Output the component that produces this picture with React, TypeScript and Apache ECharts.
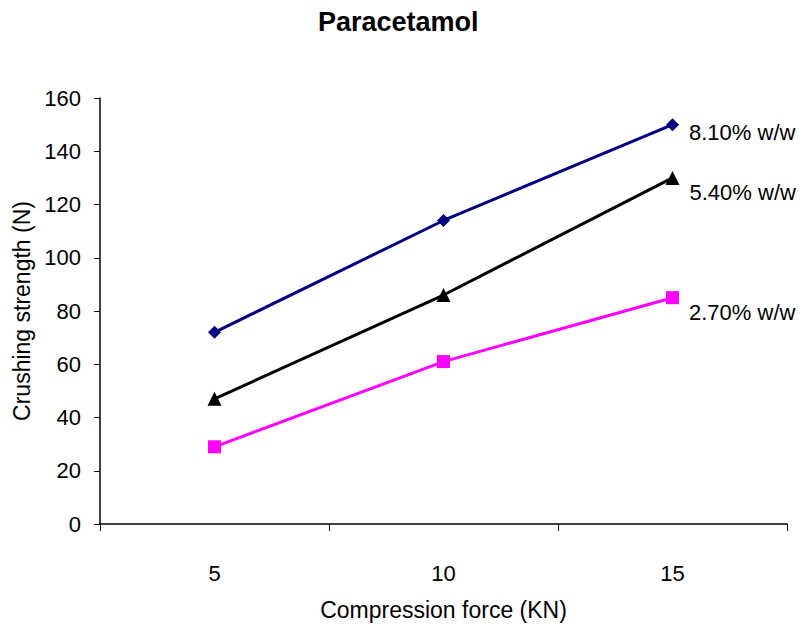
import React, { useEffect, useRef } from "react";
import * as echarts from "echarts";

const categories = ["5", "10", "15"];
const series81 = [72, 114, 150];
const series54 = [47, 86, 130];
const series27 = [29, 61, 85];
const seriesNames = ["8.10% w/w", "5.40% w/w", "2.70% w/w"];

const FONT = "'Liberation Sans', Arial, sans-serif";

function withEndLabel(values: number[], name: string, offsetY: number) {
  return values.map((v, i) =>
    i === values.length - 1
      ? {
          value: v,
          label: {
            show: true,
            position: "right",
            offset: [5, offsetY],
            formatter: name,
            color: "#000",
            fontSize: 22,
            fontFamily: FONT,
          },
        }
      : v
  );
}

export default function App() {
  const ref = useRef<HTMLDivElement>(null);
  useEffect(() => {
    if (!ref.current) return;
    const chart = echarts.init(ref.current, undefined, { renderer: "svg" });
    chart.setOption({
      animation: false,
      backgroundColor: "#fff",
      title: {
        text: "Paracetamol",
        left: 318,
        top: 8,
        padding: 0,
        textStyle: { fontFamily: FONT, fontSize: 27, fontWeight: "bold", color: "#000" },
      },
      grid: { left: 100, right: 15, top: 98, bottom: 107, outerBoundsMode: "none", containLabel: false },
      xAxis: {
        type: "category",
        data: categories,
        boundaryGap: true,
        name: "Compression force (KN)",
        nameLocation: "middle",
        nameGap: 74,
        nameTextStyle: { fontFamily: FONT, fontSize: 23, color: "#000" },
        axisLine: { lineStyle: { color: "#000", width: 1.5 } },
        axisTick: { show: true, length: 7, lineStyle: { color: "#000" } },
        axisLabel: { fontFamily: FONT, fontSize: 22, color: "#000", margin: 38 },
        splitLine: { show: false },
      },
      yAxis: {
        type: "value",
        min: 0,
        max: 160,
        interval: 20,
        name: "Crushing strength (N)",
        nameLocation: "middle",
        nameGap: 67,
        nameTextStyle: { fontFamily: FONT, fontSize: 23, color: "#000" },
        axisLine: { show: true, lineStyle: { color: "#000", width: 1.5 } },
        axisTick: { show: true, length: 6, lineStyle: { color: "#000" } },
        axisLabel: { fontFamily: FONT, fontSize: 22, color: "#000", margin: 19 },
        splitLine: { show: false },
      },
      series: [
        {
          name: seriesNames[0],
          type: "line",
          data: withEndLabel(series81, seriesNames[0], 8),
          symbol: "diamond",
          symbolSize: 13,
          lineStyle: { color: "#000080", width: 3 },
          itemStyle: { color: "#000080" },
        },
        {
          name: seriesNames[1],
          type: "line",
          data: withEndLabel(series54, seriesNames[1], 15),
          symbol: "triangle",
          symbolSize: 14,
          lineStyle: { color: "#000000", width: 3 },
          itemStyle: { color: "#000000" },
        },
        {
          name: seriesNames[2],
          type: "line",
          data: withEndLabel(series27, seriesNames[2], 15),
          symbol: "rect",
          symbolSize: 13,
          lineStyle: { color: "#FF00FF", width: 3 },
          itemStyle: { color: "#FF00FF" },
        },
      ],
    });
    return () => chart.dispose();
  }, []);
  return (
    <div
      ref={ref}
      style={{ position: "absolute", left: 0, top: 0, width: 802, height: 631 }}
    />
  );
}
